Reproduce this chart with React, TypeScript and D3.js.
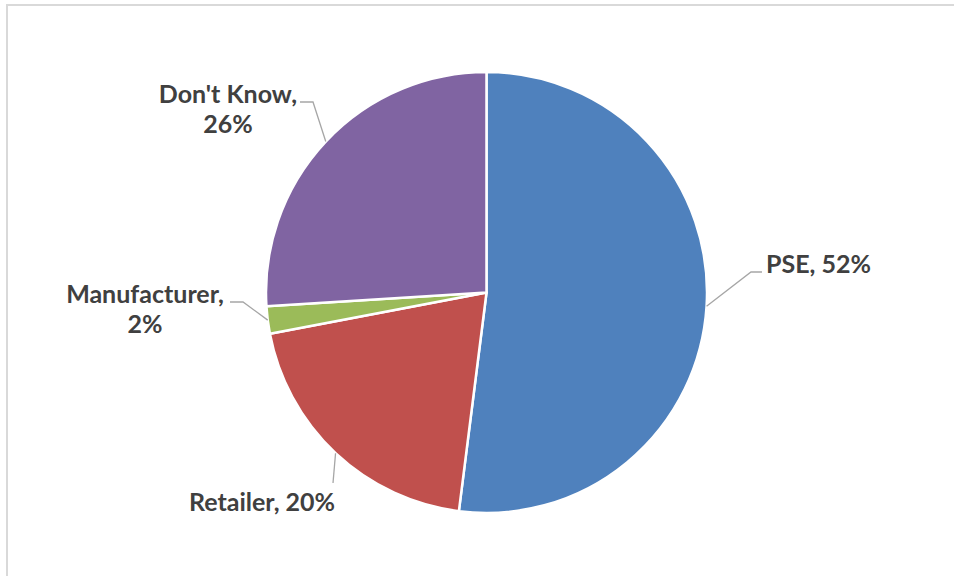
import React from "react";
import * as d3 from "d3";

const categories = ["PSE", "Retailer", "Manufacturer", "Don't Know"];
const values = [52, 20, 2, 26];
const colors = ["#4F81BD", "#C0504D", "#9BBB59", "#8064A2"];
// label lines (text) for each category
const labelLines = [["PSE, 52%"], ["Retailer, 20%"], ["Manufacturer,", "2%"], ["Don't Know,", "26%"]];

const W = 954;
const H = 576;
const cx = 486.5;
const cy = 292.5;
const R = 220.5;

// label placement: anchor x, first baseline y, text-anchor, elbow point
const labelLayout = [
  { x: 766, y: 273, anchor: "start", elbow: [751, 272], end: [762, 272] },
  { x: 189, y: 511, anchor: "start", elbow: [333, 483], end: [333, 483] },
  { x: 145, y: 303, anchor: "middle", elbow: [243, 302], end: [230, 302] },
  { x: 228, y: 103, anchor: "middle", elbow: [313, 102], end: [300, 102] },
];

export default function App() {
  const pie = d3
    .pie<number>()
    .sort(null)
    .value((d) => d)
    .startAngle(0)
    .endAngle(2 * Math.PI);
  const arcs = pie(values);
  const arc = d3.arc<d3.PieArcDatum<number>>().innerRadius(0).outerRadius(R);

  return (
    <svg
      width={W}
      height={H}
      style={{ position: "absolute", left: 0, top: 0, background: "#fff" }}
    >
      <rect x={7} y={5} width={W + 10} height={H + 10} fill="#fff" stroke="#d9d9d9" strokeWidth={2} />
      <g transform={`translate(${cx},${cy})`}>
        {arcs.map((a, i) => (
          <path key={categories[i]} d={arc(a) || ""} fill={colors[i]} stroke="#fff" strokeWidth={2.5} strokeLinejoin="round" />
        ))}
      </g>
      {arcs.map((a, i) => {
        const mid = (a.startAngle + a.endAngle) / 2;
        const sx = cx + R * Math.sin(mid);
        const sy = cy - R * Math.cos(mid);
        const L = labelLayout[i];
        const pts = [
          [sx, sy],
          L.elbow,
          L.end,
        ];
        const line = d3.line()(pts as [number, number][]) || "";
        return <path key={"l" + i} d={line} fill="none" stroke="#a6a6a6" strokeWidth={1.3} />;
      })}
      {labelLines.map((lines, i) => {
        const L = labelLayout[i];
        return (
          <text
            key={"t" + i}
            x={L.x}
            y={L.y}
            textAnchor={L.anchor as any}
            fontFamily="Lato, 'Open Sans', sans-serif"
            fontWeight={700}
            fontSize={25}
            fill="#404040"
          >
            {lines.map((s, j) => (
              <tspan key={j} x={L.x} dy={j === 0 ? 0 : 30}>
                {s}
              </tspan>
            ))}
          </text>
        );
      })}
    </svg>
  );
}
